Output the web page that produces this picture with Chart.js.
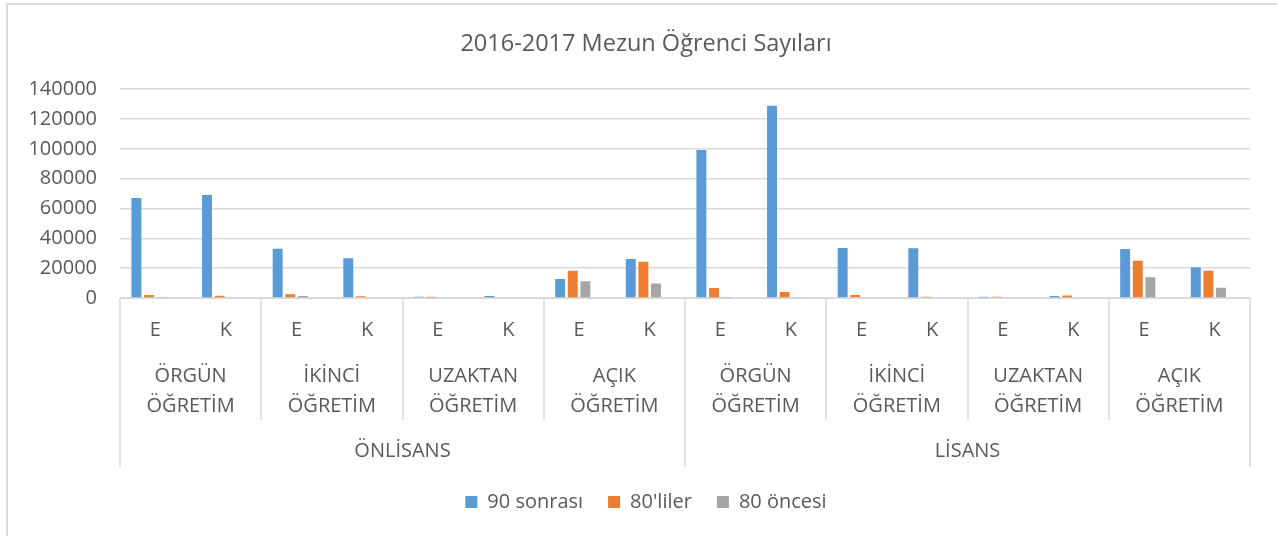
<!DOCTYPE html>
<html>
<head>
<meta charset="utf-8">
<script src="https://cdn.jsdelivr.net/npm/chart.js@4/dist/chart.umd.min.js"></script>
<style>
  html, body { margin: 0; padding: 0; background: #ffffff; overflow: hidden; }
  #wrap { position: relative; width: 1277px; height: 536px; }
  #frame { position: absolute; left: 6px; top: 3px; width: 1400px; height: 700px;
           border-left: 2px solid #dcdcdc; border-top: 2px solid #dcdcdc; pointer-events: none; }
  canvas { position: absolute; left: 0; top: 0; }
</style>
</head>
<body>
<div id="wrap">
  <canvas id="c" width="1277" height="536"></canvas>
  <div id="frame"></div>
</div>
<script>
// ---- data ----
const title = '2016-2017 Mezun Öğrenci Sayıları';
const categories = ['E','K','E','K','E','K','E','K','E','K','E','K','E','K','E','K'];
const educationTypes = [
  ['ÖRGÜN', 'ÖĞRETİM'],
  ['İKİNCİ', 'ÖĞRETİM'],
  ['UZAKTAN', 'ÖĞRETİM'],
  ['AÇIK', 'ÖĞRETİM'],
  ['ÖRGÜN', 'ÖĞRETİM'],
  ['İKİNCİ', 'ÖĞRETİM'],
  ['UZAKTAN', 'ÖĞRETİM'],
  ['AÇIK', 'ÖĞRETİM']
];
const programs = ['ÖNLİSANS', 'LİSANS'];
const seriesNames = ['90 sonrası', "80'liler", '80 öncesi'];
const after90  = [67000, 69000, 33000, 26600, 800, 1300, 12700, 26100, 99300, 128900, 33500, 33300, 800, 1300, 32800, 20600];
const the80s   = [2000, 1500, 2500, 1100, 800, 500, 18300, 24300, 6700, 4000, 2000, 800, 800, 1600, 25000, 18300];
const before80 = [700, 0, 1300, 0, 0, 0, 11200, 9800, 600, 600, 0, 0, 0, 500, 13900, 6900];
const emptySeries = [null, null, null, null, null, null, null, null, null, null, null, null, null, null, null, null];
const yTicks = [0, 20000, 40000, 60000, 80000, 100000, 120000, 140000];

const TEXT = '#595959';
const GRID = '#d9d9d9';
const FONT = "'Open Sans', sans-serif";

const hierarchyPlugin = {
  id: 'hierarchy',
  afterDraw(chart) {
    const x = chart.scales.x;
    const ctx = chart.ctx;
    const n = categories.length;
    const boundary = (b) => {
      if (b === 0) return x.left;
      if (b === n) return x.right;
      return (x.getPixelForValue(b - 1) + x.getPixelForValue(b)) / 2;
    };
    const top = x.top;
    ctx.save();
    ctx.strokeStyle = GRID;
    ctx.lineWidth = 1.5;
    for (let b = 0; b <= n; b += 2) {
      const px = Math.round(boundary(b));
      const end = (b % 8 === 0) ? x.bottom : top + 122;
      ctx.beginPath();
      ctx.moveTo(px, top);
      ctx.lineTo(px, end);
      ctx.stroke();
    }
    ctx.fillStyle = TEXT;
    ctx.textAlign = 'center';
    ctx.textBaseline = 'middle';
    ctx.font = '20px ' + FONT;
    educationTypes.forEach((lines, g) => {
      const cx = (boundary(2 * g) + boundary(2 * g + 2)) / 2;
      lines.forEach((t, i) => ctx.fillText(t, cx, top + 78 + i * 30));
    });
    programs.forEach((p, i) => {
      const cx = (boundary(8 * i) + boundary(8 * i + 8)) / 2;
      ctx.fillText(p, cx, top + 153);
    });
    ctx.restore();
  }
};

Chart.defaults.font.family = FONT;
Chart.defaults.color = TEXT;

new Chart(document.getElementById('c'), {
  type: 'bar',
  data: {
    labels: categories,
    datasets: [
      { label: seriesNames[0], data: after90,  backgroundColor: '#5B9BD5' },
      { label: seriesNames[1], data: the80s,   backgroundColor: '#ED7D31' },
      { label: seriesNames[2], data: before80, backgroundColor: '#A5A5A5' },
      { label: '', data: emptySeries, backgroundColor: 'rgba(0,0,0,0)' }
    ]
  },
  options: {
    responsive: false,
    animation: false,
    devicePixelRatio: 1,
    datasets: { bar: { categoryPercentage: 0.714, barPercentage: 0.79, borderWidth: 0 } },
    layout: { padding: { left: 20, right: 5, top: 0, bottom: 14 } },
    plugins: {
      title: {
        display: true, text: title, color: TEXT,
        font: { size: 23.5, weight: 'normal', family: FONT, lineHeight: 1.2 },
        padding: { top: 30, bottom: 31 }
      },
      legend: {
        position: 'bottom',
        labels: {
          color: TEXT, boxWidth: 12, boxHeight: 12, padding: 25,
          font: { size: 20, family: FONT },
          filter: (item) => item.datasetIndex < 3
        }
      },
      tooltip: { enabled: false }
    },
    scales: {
      x: {
        type: 'category',
        grid: { drawOnChartArea: false, drawTicks: false, color: GRID },
        border: { display: true, color: GRID, width: 1, z: -1 },
        ticks: { color: TEXT, font: { size: 20 }, padding: 20, maxRotation: 0, autoSkip: false },
        afterFit(scale) { scale.height = 169; }
      },
      y: {
        min: 0, max: 140000,
        afterBuildTicks(scale) { scale.ticks = yTicks.map(v => ({ value: v })); },
        grid: { color: GRID, lineWidth: 1.5, drawTicks: false },
        border: { display: false },
        ticks: { color: TEXT, font: { size: 20 }, padding: 23, callback: (v) => String(v) },
        afterFit(scale) { scale.width = 100; }
      },
      yRight: {
        type: 'linear', position: 'right', display: true,
        grid: { display: false, drawTicks: false },
        border: { display: false },
        ticks: { display: false },
        afterFit(scale) { scale.width = 22; }
      }
    }
  },
  plugins: [hierarchyPlugin]
});
</script>
</body>
</html>
